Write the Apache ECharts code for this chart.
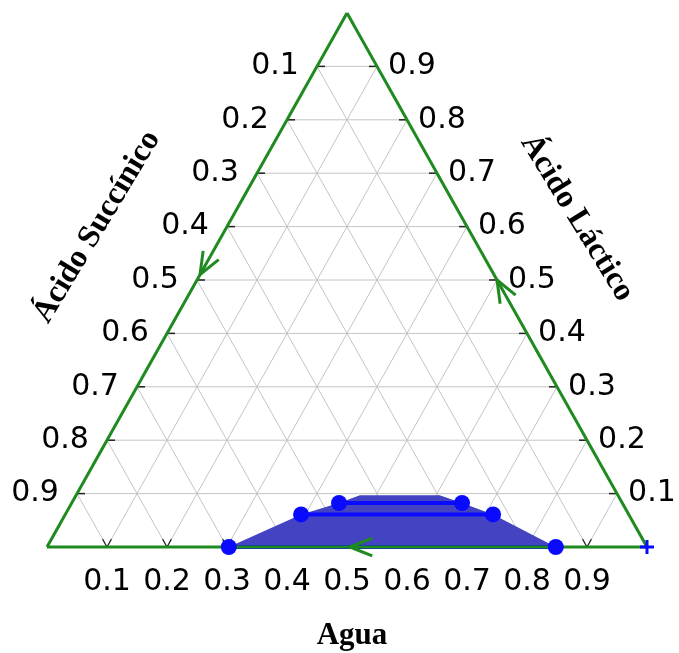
<!DOCTYPE html>
<html><head><meta charset="utf-8">
<script src="https://cdn.jsdelivr.net/npm/echarts@6/dist/echarts.min.js"></script>
<style>html,body{margin:0;padding:0;background:#fff}#c{width:679px;height:653px}</style>
</head><body><div id="c"></div>
<script>
// ternary points are [agua, lactico]; succinico = 1 - agua - lactico
const gridLevels = [0.1,0.2,0.3,0.4,0.5,0.6,0.7,0.8,0.9];
const bottomLabels = ['0.1','0.2','0.3','0.4','0.5','0.6','0.7','0.8','0.9'];
const leftLabels = ['0.1','0.2','0.3','0.4','0.5','0.6','0.7','0.8','0.9'];   // top to bottom
const rightLabels = ['0.9','0.8','0.7','0.6','0.5','0.4','0.3','0.2','0.1'];  // top to bottom
const binodal = [[0.303,0],[0.393,0.061],[0.4455,0.0824],[0.473,0.097],[0.606,0.097],[0.6505,0.0824],[0.713,0.061],[0.848,0]];
const tieLines = [[[0.303,0],[0.848,0]],[[0.393,0.061],[0.713,0.061]],[[0.4455,0.0824],[0.6505,0.0824]]];
const edgeArrows = [{tip:[0,0.51],toward:[0,0]},{tip:[0.5,0.5],toward:[0,1]},{tip:[0.505,0],toward:[0,0]}];
const vertexMark = [1,0];
const titles = {bottom:'Agua', left:'Ácido Succínico', right:'Ácido Láctico'};

function cart(p){ return [p[0] + p[1]/2, p[1]]; }

const GREEN = '#1f8a1f';
const chart = echarts.init(document.getElementById('c'));

function seg(a,b,stroke,w){ return {type:'line',shape:{x1:a[0],y1:a[1],x2:b[0],y2:b[1]},style:{stroke:stroke,lineWidth:w}}; }
function toward(a,b,len){ const dx=b[0]-a[0], dy=b[1]-a[1]; const d=Math.hypot(dx,dy); return [a[0]+dx/d*len, a[1]+dy/d*len]; }

const sideLabel = {show:true,fontSize:30,fontFamily:'DejaVu Sans',color:'#000',opacity:1};

const option = {
  animation:false,
  grid:{left:47,right:32,top:13,bottom:106},
  xAxis:{type:'value',min:0,max:1,interval:0.1,
    axisLine:{show:false},axisTick:{show:false},splitLine:{show:false},
    axisLabel:{margin:20,fontSize:30,fontFamily:'DejaVu Sans',color:'#000',
      formatter:function(v){ const i=Math.round(v*10); return (i>=1&&i<=9)?bottomLabels[i-1]:''; }}},
  yAxis:{type:'value',min:0,max:1,show:false},
  graphic:[
    {type:'text',x:352,y:636,style:{text:titles.bottom,font:'bold 31px "Liberation Serif"',fill:'#000',align:'center',verticalAlign:'middle'}},
    {type:'text',x:97,y:227,rotation:1.03,style:{text:titles.left,font:'bold 32px "Liberation Serif"',fill:'#000',align:'center',verticalAlign:'middle'}},
    {type:'text',x:577,y:218,rotation:-1.02,style:{text:titles.right,font:'bold 32px "Liberation Serif"',fill:'#000',align:'center',verticalAlign:'middle'}}
  ],
  series:[
    {type:'custom',z:1,clip:false,data:gridLevels.map(v=>[v]),
      renderItem:function(params,api){
        const v=api.value(0);
        const hL=[api.coord(cart([0,v])),api.coord(cart([1-v,v]))];
        const cA=[api.coord(cart([v,0])),api.coord(cart([v,1-v]))];
        const cS=[api.coord(cart([1-v,0])),api.coord(cart([0,1-v]))];
        const g='#c4c4c4', k='#222';
        return {type:'group',children:[
          seg(hL[0],hL[1],g,1), seg(cA[0],cA[1],g,1), seg(cS[0],cS[1],g,1),
          seg(hL[0],toward(hL[0],hL[1],8),k,1.5),
          seg(hL[1],toward(hL[1],hL[0],8),k,1.5),
          seg(cA[0],toward(cA[0],cA[1],9),k,1.2),
          seg(cS[0],toward(cS[0],cS[1],9),k,1.2)
        ]};
      }},
    {type:'custom',z:2,clip:false,data:[[0]],
      renderItem:function(params,api){
        return {type:'polygon',shape:{points:binodal.map(p=>api.coord(cart(p)))},style:{fill:'#4444c2'}};
      }},
    {type:'custom',z:3,clip:false,data:tieLines.map((t,i)=>[i]),
      renderItem:function(params,api){
        const t=tieLines[api.value(0)];
        return seg(api.coord(cart(t[0])),api.coord(cart(t[1])),'#0a0aff',4);
      }},
    {type:'custom',z:4,clip:false,data:[[0]],
      renderItem:function(params,api){
        const A=api.coord(cart([0,1])),B=api.coord(cart([0,0])),C=api.coord(cart([1,0]));
        const ch=[seg(A,B,GREEN,3),seg(B,C,GREEN,3),seg(C,A,GREEN,3)];
        edgeArrows.forEach(function(a){
          const tp=api.coord(cart(a.tip)), to=api.coord(cart(a.toward));
          const dx=tp[0]-to[0], dy=tp[1]-to[1]; const d=Math.hypot(dx,dy);
          const ux=dx/d, uy=dy/d, L=24, ang=0.38;
          [ang,-ang].forEach(function(s){
            const cs=Math.cos(s), sn=Math.sin(s);
            const rx=ux*cs-uy*sn, ry=ux*sn+uy*cs;
            ch.push(seg(tp,[tp[0]+rx*L,tp[1]+ry*L],GREEN,3));
          });
        });
        return {type:'group',children:ch};
      }},
    {type:'scatter',z:5,symbolSize:16,itemStyle:{color:'#0a0aff',opacity:1},
      data:[].concat.apply([],tieLines.map(t=>[cart(t[0]),cart(t[1])]))},
    {type:'custom',z:5,clip:false,data:[cart(vertexMark)],
      renderItem:function(params,api){
        const p=api.coord([api.value(0),api.value(1)]);
        return {type:'group',children:[seg([p[0]-7,p[1]],[p[0]+7,p[1]],'#0a0aff',3),seg([p[0],p[1]-7],[p[0],p[1]+7],'#0a0aff',3)]};
      }},
    {type:'scatter',z:6,symbolSize:0.1,itemStyle:{color:'#fff',opacity:1},silent:true,
      data:gridLevels.map(v=>({value:cart([0,v]),label:{formatter:leftLabels[Math.round((1-v)*10)-1]}})),
      label:Object.assign({position:'left',distance:18},sideLabel)},
    {type:'scatter',z:6,symbolSize:0.1,itemStyle:{color:'#fff',opacity:1},silent:true,
      data:gridLevels.map(v=>({value:cart([1-v,v]),label:{formatter:rightLabels[Math.round((1-v)*10)-1]}})),
      label:Object.assign({position:'right',distance:11},sideLabel)}
  ]
};
chart.setOption(option);
</script></body></html>
